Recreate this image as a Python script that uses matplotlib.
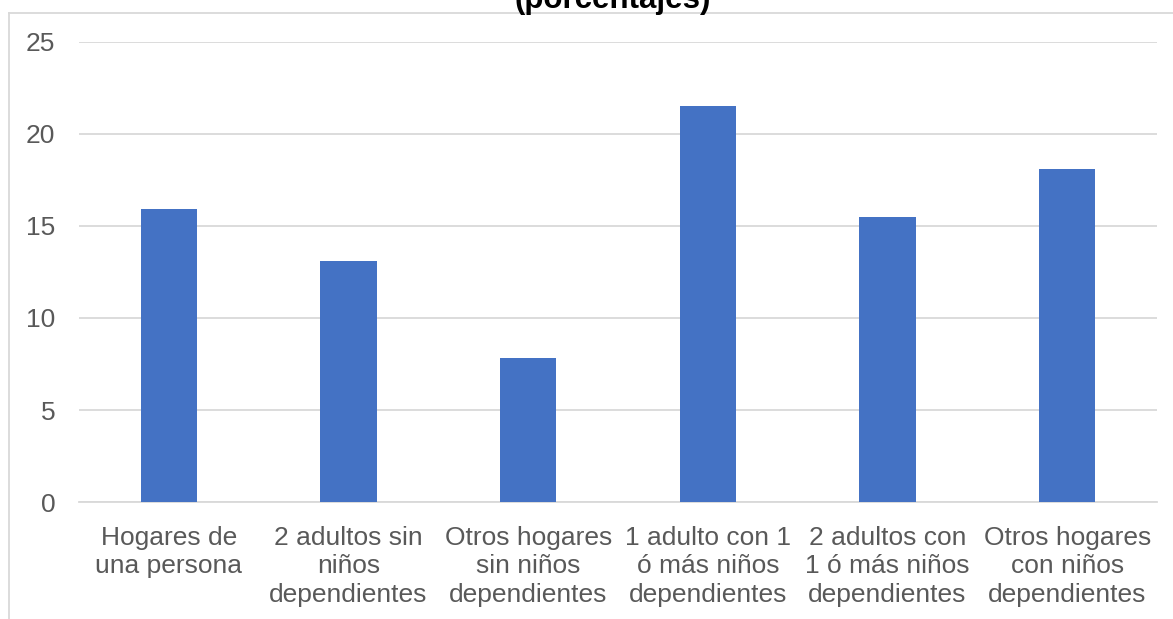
import matplotlib
matplotlib.use("Agg")
import matplotlib.pyplot as plt
from matplotlib.lines import Line2D

categories = [
    "Hogares de\nuna persona",
    "2 adultos sin\nniños\ndependientes",
    "Otros hogares\nsin niños\ndependientes",
    "1 adulto con 1\nó más niños\ndependientes",
    "2 adultos con\n1 ó más niños\ndependientes",
    "Otros hogares\ncon niños\ndependientes",
]
values = [15.9, 13.1, 7.8, 21.5, 15.5, 18.1]
y_ticks = [0, 5, 10, 15, 20, 25]
title = "(porcentajes)"

W, H = 1173, 619
plt.rcParams["font.family"] = ["Liberation Sans", "DejaVu Sans"]
fig = plt.figure(figsize=(W / 100, H / 100), dpi=100)
fig.patch.set_facecolor("white")

ax = fig.add_axes([79 / W, 1 - 502 / H, (1157 - 79) / W, (502 - 42) / H])
x = list(range(len(categories)))
ax.bar(x, values, width=0.313, color="#4472C4", zorder=3)
ax.set_xlim(-0.5, len(categories) - 0.5)
ax.set_ylim(0, 25)
ax.set_yticks(y_ticks)
ax.set_yticklabels([str(t) for t in y_ticks])
ax.set_xticks(x)
ax.set_xticklabels(categories, linespacing=1.25)
ax.tick_params(axis="both", length=0, labelsize=19, labelcolor="#595959")
ax.tick_params(axis="x", pad=17)
ax.tick_params(axis="y", pad=17)
ax.grid(axis="y", color="#D9D9D9", linewidth=1.3, zorder=0)
for s in ["left", "right", "top"]:
    ax.spines[s].set_visible(False)
ax.spines["bottom"].set_color("#D9D9D9")
ax.spines["bottom"].set_linewidth(1.3)

# chart frame (left and top edges)
fig.add_artist(Line2D([9 / W, 9 / W], [0, 1 - 13 / H], transform=fig.transFigure,
                      color="#D9D9D9", linewidth=1.3))
fig.add_artist(Line2D([9 / W, 1], [1 - 13 / H, 1 - 13 / H], transform=fig.transFigure,
                      color="#D9D9D9", linewidth=1.3))

fig.text(613 / W, 1 - 8 / H, title, ha="center", va="baseline",
         fontsize=22.5, fontweight="bold", color="black", zorder=5)

fig.savefig("out.png", dpi=100, facecolor="white")
